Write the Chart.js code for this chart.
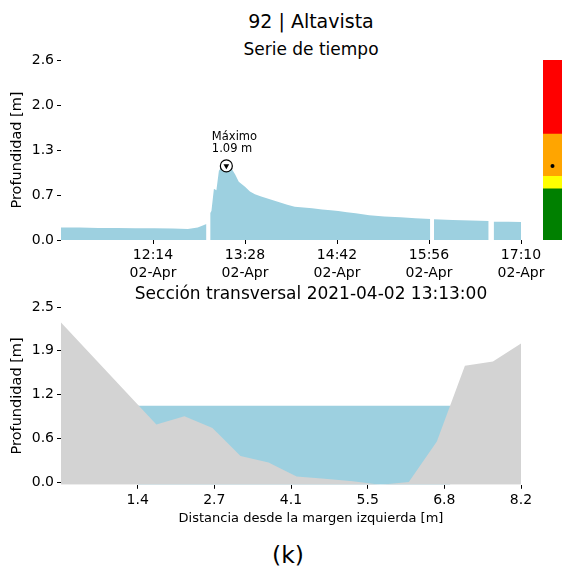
<!DOCTYPE html>
<html lang="es">
<head>
  <meta charset="UTF-8" />
  <meta name="viewport" content="width=device-width, initial-scale=1" />
  <title>92 | Altavista</title>
  <script src="https://cdn.jsdelivr.net/npm/chart.js"></script>
  <style>
    body { margin: 0; background: #fff; font-family: 'DejaVu Sans', sans-serif; color: #000; }
    #page { position: relative; width: 566px; height: 572px; overflow: hidden; }
    .txt { position: absolute; white-space: nowrap; line-height: 1; transform: translateX(-50%); }
    canvas { position: absolute; }
  </style>
</head>
<body>
<div id="page">
  <div class="txt" style="left:311px; top:12px; font-size:19px;">92 | Altavista</div>
  <div class="txt" style="left:311px; top:40.5px; font-size:17px;">Serie de tiempo</div>
  <canvas id="serieCanvas" width="566" height="240" style="left:0; top:50px;"></canvas>
  <canvas id="nivelCanvas" width="19" height="180" style="left:543px; top:60px;"></canvas>
  <div class="txt" style="left:311px; top:285px; font-size:17px;">Sección transversal 2021-04-02 13:13:00</div>
  <canvas id="seccionCanvas" width="566" height="210" style="left:0; top:300px;"></canvas>
  <div class="txt" style="left:311px; top:511px; font-size:13px;">Distancia desde la margen izquierda [m]</div>
  <div class="txt" style="left:288px; top:544px; font-size:23.5px;">(k)</div>
</div>

<script>
  // serie de tiempo: minutos desde las 11:00 del 02-Apr, null = hueco en los datos
  const minutos = [0, 15, 30, 45, 60, 75, 90, 102, 110, 117, 118, 120, 121, 123, 125, 127, 129, 131, 133, 135,
    137, 140, 143, 148, 152, 156, 161, 168, 175, 182, 188, 195, 202, 210, 217, 223, 230, 237, 248, 260,
    273, 285, 297, 298, 300, 315, 330, 344, 345, 348, 360, 370];
  const profundidad = [0.18, 0.18, 0.175, 0.175, 0.17, 0.17, 0.165, 0.16, 0.18, 0.23, null, 0.39, 0.42, 0.74, 0.72, 1.0, 1.05, 1.06, 1.07, 1.06,
    1.035, 0.95, 0.84, 0.77, 0.70, 0.66, 0.63, 0.59, 0.55, 0.51, 0.48, 0.47, 0.46, 0.44, 0.43, 0.42, 0.40, 0.385, 0.357, 0.34,
    0.328, 0.315, 0.303, null, 0.298, 0.29, 0.282, 0.274, null, 0.265, 0.262, 0.26];
  const horaTicks = [0, 74, 148, 222, 296, 370];
  const horaLabels = ['', '12:14', '13:28', '14:42', '15:56', '17:10'];
  const fechaLabel = '02-Apr';
  const serieYTicks = [0, 0.65, 1.3, 1.95, 2.6];
  const serieYLabels = ['0.0', '0.7', '1.3', '2.0', '2.6'];
  const maximoMin = 133;
  const maximoProf = 1.07;
  const maximoTexto = ['Máximo', '1.09 m'];

  // barra de alertas
  const nivelLimites = [0, 0.74, 0.92, 1.53, 2.6];
  const nivelColores = ['#008000', '#ffff00', '#ffa500', '#ff0000'];
  const nivelActual = 1.07;

  // seccion transversal
  const distancias = [0, 1.7, 2.2, 2.7, 3.2, 3.7, 4.2, 4.7, 5.2, 5.7, 6.2, 6.7, 7.2, 7.7, 8.2];
  const cotas = [2.28, 0.82, 0.94, 0.77, 0.37, 0.28, 0.08, 0.045, 0.01, -0.04, 0.0, 0.58, 1.66, 1.72, 1.98];
  const aguaX = [1.37, 6.94];
  const aguaNivel = 1.09;
  const seccionXTicks = [0, 1.367, 2.733, 4.1, 5.467, 6.833, 8.2];
  const seccionXLabels = ['', '1.4', '2.7', '4.1', '5.5', '6.8', '8.2'];
  const seccionYTicks = [0, 0.625, 1.25, 1.875, 2.5];
  const seccionYLabels = ['0.0', '0.6', '1.2', '1.9', '2.5'];

  const azul = '#9dd0e0';
  const gris = '#d3d3d3';

  Chart.defaults.font.family = "'DejaVu Sans', sans-serif";
  Chart.defaults.font.size = 14;
  Chart.defaults.color = '#000';

  const marcas = { drawOnChartArea: false, tickLength: 4, color: '#000', lineWidth: 1 };
  const sinLeyenda = { legend: { display: false }, tooltip: { enabled: false } };

  function ejeY(min, max, ticks, labels) {
    return {
      min: min, max: max,
      afterBuildTicks: s => { s.ticks = ticks.map(v => ({ value: v })); },
      afterFit: s => { s.width = 61; s.paddingTop = 0; s.paddingBottom = 0; },
      ticks: { callback: (v, i) => labels[i], padding: 3, autoSkip: false },
      grid: marcas,
      border: { display: false },
      title: { display: true, text: 'Profundidad [m]', font: { size: 14.5 }, padding: { top: 9, bottom: 0 } }
    };
  }

  function ejeX(min, max, ticks, labels, alto, lineHeight) {
    return {
      type: 'linear', min: min, max: max,
      afterBuildTicks: s => { s.ticks = ticks.map(v => ({ value: v })); },
      afterFit: s => { s.height = alto; s.paddingLeft = 0; s.paddingRight = 0; },
      ticks: { callback: (v, i) => labels(i), padding: 3, autoSkip: false, maxRotation: 0,
               font: { size: 14, lineHeight: lineHeight } },
      grid: marcas,
      border: { display: false }
    };
  }

  const textoMaximo = {
    id: 'textoMaximo',
    afterDatasetsDraw(chart) {
      const { ctx, scales: { x, y } } = chart;
      const px = x.getPixelForValue(maximoMin);
      const py = y.getPixelForValue(maximoProf);
      ctx.save();
      ctx.font = "11.5px 'DejaVu Sans'";
      ctx.fillStyle = '#000';
      ctx.fillText(maximoTexto[0], px - 14.5, py - 26);
      ctx.fillText(maximoTexto[1], px - 14.5, py - 14);
      ctx.restore();
    }
  };

  new Chart(document.getElementById('serieCanvas'), {
    type: 'line',
    data: {
      datasets: [
        {
          data: [{ x: maximoMin, y: maximoProf }],
          pointStyle: 'triangle', rotation: 180, pointRadius: 3.3,
          pointBackgroundColor: '#000', pointBorderWidth: 0, showLine: false, order: 0
        },
        {
          data: [{ x: maximoMin, y: maximoProf }],
          pointStyle: 'circle', pointRadius: 6,
          pointBackgroundColor: '#fff', pointBorderColor: '#000', pointBorderWidth: 1.2, showLine: false, order: 1
        },
        {
          data: minutos.map((m, i) => ({ x: m, y: profundidad[i] })),
          fill: 'origin', backgroundColor: azul, borderColor: 'rgba(0,0,0,0)', borderWidth: 0,
          pointRadius: 0, tension: 0, spanGaps: false, order: 2
        }
      ]
    },
    options: {
      animation: false,
      responsive: false,
      layout: { autoPadding: false, padding: { top: 10, right: 45, left: 0, bottom: 0 } },
      plugins: sinLeyenda,
      scales: {
        x: ejeX(0, 370, horaTicks, i => horaLabels[i] ? [horaLabels[i], fechaLabel] : null, 50, 1.25),
        y: ejeY(0, 2.6, serieYTicks, serieYLabels)
      }
    },
    plugins: [textoMaximo]
  });

  new Chart(document.getElementById('nivelCanvas'), {
    type: 'bar',
    data: {
      labels: ['nivel'],
      datasets: [
        { type: 'line', data: [nivelActual], pointRadius: 2, pointBackgroundColor: '#000', pointBorderWidth: 0, showLine: false, order: 0 }
      ].concat(nivelColores.map((c, i) => ({
        data: [[nivelLimites[i], nivelLimites[i + 1]]],
        backgroundColor: c, borderWidth: 0, barPercentage: 1, categoryPercentage: 1, grouped: false, order: 1
      })))
    },
    options: {
      animation: false,
      responsive: false,
      layout: { autoPadding: false, padding: 0 },
      plugins: sinLeyenda,
      scales: { x: { display: false }, y: { display: false, min: 0, max: 2.6 } }
    }
  });

  new Chart(document.getElementById('seccionCanvas'), {
    type: 'line',
    data: {
      datasets: [
        {
          data: distancias.map((d, i) => ({ x: d, y: cotas[i] })),
          fill: 'start', backgroundColor: gris, borderColor: 'rgba(0,0,0,0)', borderWidth: 0,
          pointRadius: 0, tension: 0, order: 0
        },
        {
          data: aguaX.map(d => ({ x: d, y: aguaNivel })),
          fill: 'start', backgroundColor: azul, borderColor: 'rgba(0,0,0,0)', borderWidth: 0,
          pointRadius: 0, tension: 0, order: 1
        }
      ]
    },
    options: {
      animation: false,
      responsive: false,
      layout: { autoPadding: false, padding: { top: 7, right: 45, left: 0, bottom: 0 } },
      plugins: sinLeyenda,
      scales: {
        x: ejeX(0, 8.2, seccionXTicks, i => seccionXLabels[i] || null, 25.2, 1.2),
        y: ejeY(-0.04, 2.5, seccionYTicks, seccionYLabels)
      }
    }
  });
</script>
</body>
</html>
